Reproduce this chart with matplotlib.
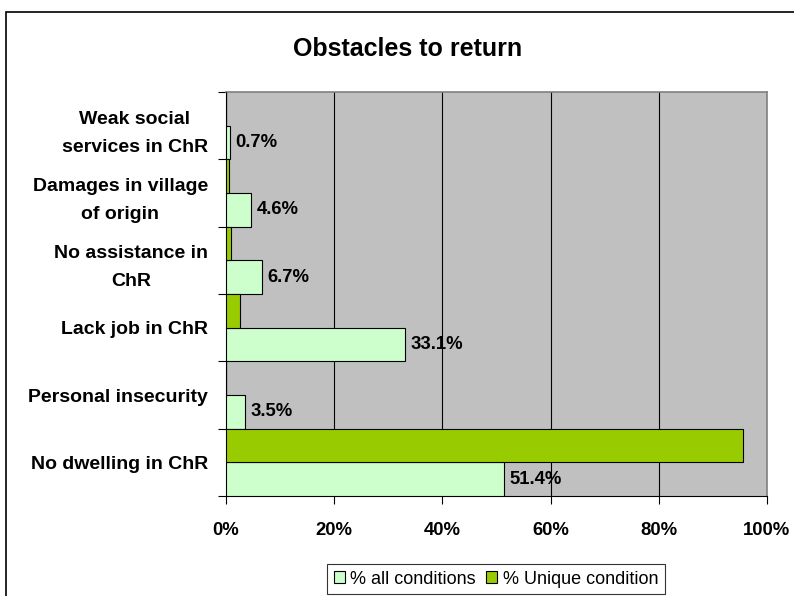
import matplotlib.pyplot as plt
import matplotlib.patches as patches
import numpy as np

categories = ['No dwelling in ChR', 'Personal insecurity', 'Lack job in ChR',
              'No assistance in\nChR', 'Damages in village\nof origin',
              'Weak social\nservices in ChR']
all_conditions = [51.4, 3.5, 33.1, 6.7, 4.6, 0.7]
unique_condition = [95.6, 0.0, 2.6, 0.9, 0.5, 0.0]
x_ticks = [0, 20, 40, 60, 80, 100]

plt.rcParams['font.family'] = ['Liberation Sans', 'DejaVu Sans']

W, H = 794, 596
fig = plt.figure(figsize=(W / 100, H / 100), dpi=100)
ax = fig.add_axes([226 / W, 1 - 496 / H, (767 - 226) / W, (496 - 92) / H])
ax.set_facecolor('#C0C0C0')

y = np.arange(len(categories))
h = 0.5
b1 = ax.barh(y - h / 2, all_conditions, height=h, color='#CCFFCC',
             edgecolor='black', linewidth=0.8, label='% all conditions', zorder=3)
b2 = ax.barh(y + h / 2, unique_condition, height=h, color='#99CC00',
             edgecolor='black', linewidth=0.8, label='% Unique condition', zorder=3)

for yi, v in zip(y, all_conditions):
    ax.annotate(f'{v:.1f}%', (v, yi - h / 2), xytext=(4, 0),
                textcoords='offset points', va='center', ha='left',
                fontsize=13.3, fontweight='bold', zorder=4)

ax.set_xlim(0, 100)
ax.set_ylim(-0.5, len(categories) - 0.5)
ax.set_xticks(x_ticks)
ax.set_xticklabels([f'{t}%' for t in x_ticks], fontsize=13.3, fontweight='bold')
ax.tick_params(axis='x', length=6, width=0.8, pad=13, direction='out')
ax.xaxis.grid(True, color='black', linewidth=0.8, zorder=1)
ax.set_axisbelow(True)

ax.set_yticks(np.arange(len(categories) + 1) - 0.5)
ax.set_yticklabels([])
ax.tick_params(axis='y', which='major', length=6, width=0.8, direction='out')
ax.set_yticks(y, minor=True)
ax.set_yticklabels(categories, minor=True, fontsize=14, fontweight='bold',
                   multialignment='center', linespacing=1.85)
ax.tick_params(axis='y', which='minor', length=0, pad=13)

for s in ['top', 'right']:
    ax.spines[s].set_color('#808080')
    ax.spines[s].set_linewidth(1.2)
for s in ['left', 'bottom']:
    ax.spines[s].set_color('black')
    ax.spines[s].set_linewidth(0.8)

fig.text(408 / W, 1 - 56 / H, 'Obstacles to return', ha='center', va='baseline',
         fontsize=18, fontweight='bold')

leg = fig.legend(handles=[b1, b2], loc='center', bbox_to_anchor=(496 / W, 1 - 579 / H),
                 ncol=2, fontsize=13, frameon=True, fancybox=False,
                 handlelength=0.6, handleheight=0.6, handletextpad=0.3,
                 columnspacing=0.6, borderpad=0.35, borderaxespad=0)
leg.get_frame().set_edgecolor('black')
leg.get_frame().set_linewidth(0.8)

fig.patches.append(patches.Rectangle((6 / W, -0.05), 1.1, 1 - 12 / H + 0.05,
                                     transform=fig.transFigure, fill=False,
                                     edgecolor='black', linewidth=1.2))

fig.savefig('out.png', dpi=100)
